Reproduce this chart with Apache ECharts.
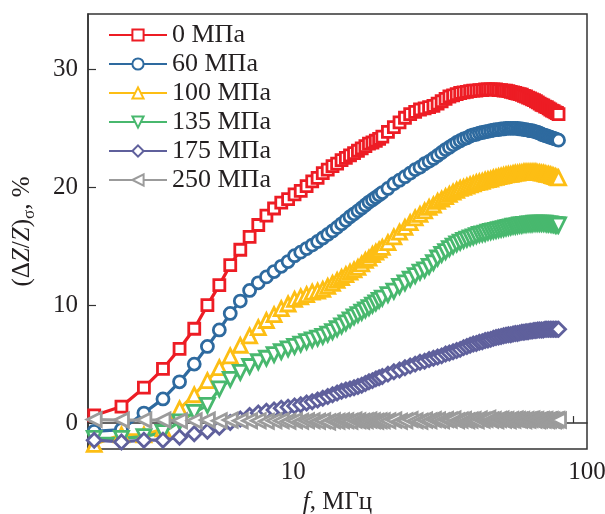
<!DOCTYPE html>
<html>
<head>
<meta charset="utf-8">
<script src="https://cdn.jsdelivr.net/npm/echarts@6/dist/echarts.min.js"></script>
<style>
  html, body { margin: 0; padding: 0; background: #fff; }
  #chart { width: 605px; height: 514px; }
</style>
</head>
<body>
<div id="chart"></div>
<script>
  // frequency, MHz
  var freq = [2.1, 2.6, 3.1, 3.6, 4.1, 4.6, 5.1, 5.6, 6.1, 6.6, 7.1, 7.6, 8.1, 8.6, 9.1, 9.6, 10.1,
    10.6, 11.1, 11.6, 12.1, 12.6, 13.1, 13.6, 14.1, 14.6, 15.1, 15.6, 16.1, 16.6, 17.1, 17.6, 18.1, 18.6, 19.1, 19.6, 20.1,
    21, 22, 23, 24, 25, 26, 27, 28, 29, 30, 31, 32, 33, 34, 35, 36, 37, 38, 39, 40,
    41, 42, 43, 44, 45, 46, 47, 48, 49, 50, 51, 52, 53, 54, 55, 56, 57, 58, 59, 60,
    61, 62, 63, 64, 65, 66, 67, 68, 69, 70, 71, 72, 73, 74, 75, 76, 77, 78, 79, 80];

  var names = ['0 МПа', '60 МПа', '100 МПа', '135 МПа', '175 МПа', '250 МПа'];

  var mpa0 = [0.65, 1.4, 3.0, 4.6, 6.3, 8.0, 10.0, 11.7, 13.4, 14.7, 15.8, 16.8, 17.6, 18.2, 18.7, 19.0, 19.4,
    19.7, 20.1, 20.5, 20.8, 21.2, 21.5, 21.8, 22.0, 22.3, 22.5, 22.7, 22.9, 23.1, 23.3, 23.5, 23.7, 23.8, 23.95, 24.1, 24.3,
    24.7, 25.1, 25.5, 25.9, 26.2, 26.4, 26.6, 26.7, 26.8, 26.9, 27.1, 27.3, 27.5, 27.7, 27.8, 27.9, 28.0, 28.05, 28.1, 28.15,
    28.2, 28.2, 28.25, 28.25, 28.3, 28.3, 28.3, 28.3, 28.3, 28.25, 28.25, 28.2, 28.2, 28.15, 28.1, 28.05, 28.0, 27.95, 27.9, 27.85,
    27.75, 27.7, 27.6, 27.55, 27.45, 27.4, 27.3, 27.2, 27.1, 27.0, 26.95, 26.85, 26.8, 26.7, 26.6, 26.5, 26.45, 26.35, 26.3, 26.2];

  var mpa60 = [-0.7, -0.55, 0.85, 2.05, 3.5, 5.0, 6.5, 7.9, 9.3, 10.35, 11.25, 11.9, 12.4, 12.85, 13.3, 13.7, 14.2,
    14.5, 14.8, 15.1, 15.4, 15.7, 16.0, 16.3, 16.6, 16.9, 17.2, 17.5, 17.75, 18.0, 18.25, 18.5, 18.75, 18.95, 19.15, 19.35, 19.55,
    19.9, 20.3, 20.6, 20.9, 21.2, 21.5, 21.7, 22.0, 22.2, 22.45, 22.7, 22.95, 23.2, 23.4, 23.6, 23.8, 23.95, 24.1, 24.2, 24.35,
    24.45, 24.5, 24.6, 24.65, 24.7, 24.75, 24.8, 24.85, 24.9, 24.9, 24.95, 24.95, 25.0, 25.0, 25.0, 25.0, 25.0, 25.0, 24.95, 24.95,
    24.9, 24.9, 24.85, 24.8, 24.8, 24.75, 24.7, 24.65, 24.6, 24.5, 24.45, 24.4, 24.35, 24.3, 24.25, 24.2, 24.15, 24.1, 24.05, 24.0];

  var mpa100 = [-1.8, -1.0, -1.0, -0.5, 1.2, 2.4, 3.6, 4.7, 5.7, 6.6, 7.4, 8.1, 8.7, 9.2, 9.7, 10.1, 10.5,
    10.7, 10.9, 11.1, 11.2, 11.35, 11.6, 11.85, 12.1, 12.35, 12.6, 12.8, 13.0, 13.2, 13.5, 13.8, 14.0, 14.3, 14.5, 14.7, 14.9,
    15.3, 15.8, 16.2, 16.6, 17.0, 17.4, 17.7, 18.0, 18.3, 18.5, 18.8, 19.0, 19.2, 19.4, 19.6, 19.75, 19.9, 20.0, 20.1, 20.2,
    20.3, 20.4, 20.45, 20.5, 20.6, 20.65, 20.7, 20.8, 20.85, 20.9, 20.95, 21.0, 21.05, 21.1, 21.1, 21.15, 21.2, 21.2, 21.25, 21.25,
    21.3, 21.3, 21.3, 21.3, 21.3, 21.3, 21.3, 21.25, 21.25, 21.2, 21.2, 21.15, 21.1, 21.1, 21.05, 21.0, 20.95, 20.9, 20.85, 20.8];

  var mpa135 = [-1.3, -1.3, -1.15, -0.8, 0.1, 0.9, 1.5, 2.9, 3.7, 4.3, 4.8, 5.2, 5.5, 5.8, 6.05, 6.3, 6.5,
    6.7, 6.9, 7.05, 7.2, 7.35, 7.55, 7.75, 8.0, 8.25, 8.5, 8.75, 9.0, 9.2, 9.4, 9.6, 9.8, 10.0, 10.2, 10.4, 10.6,
    10.9, 11.2, 11.6, 11.9, 12.2, 12.5, 12.8, 13.0, 13.3, 13.6, 14.0, 14.3, 14.55, 14.8, 15.0, 15.2, 15.35, 15.5, 15.6, 15.7,
    15.8, 15.9, 16.0, 16.05, 16.1, 16.2, 16.25, 16.3, 16.35, 16.4, 16.45, 16.5, 16.55, 16.6, 16.65, 16.7, 16.7, 16.75, 16.8, 16.8,
    16.85, 16.85, 16.9, 16.9, 16.9, 16.95, 16.95, 16.95, 16.95, 16.95, 16.95, 16.95, 16.9, 16.9, 16.9, 16.85, 16.85, 16.8, 16.8, 16.8];

  var mpa175 = [-1.45, -1.6, -1.45, -1.45, -1.2, -0.9, -0.7, -0.35, 0.05, 0.35, 0.65, 0.85, 1.0, 1.1, 1.25, 1.35, 1.45,
    1.55, 1.7, 1.8, 1.95, 2.1, 2.25, 2.4, 2.55, 2.7, 2.8, 2.9, 3.0, 3.1, 3.2, 3.35, 3.5, 3.6, 3.75, 3.85, 3.95,
    4.15, 4.35, 4.5, 4.7, 4.85, 5.0, 5.15, 5.25, 5.4, 5.5, 5.6, 5.7, 5.85, 5.95, 6.05, 6.15, 6.25, 6.4, 6.5, 6.6,
    6.7, 6.75, 6.85, 6.9, 7.0, 7.05, 7.1, 7.2, 7.25, 7.3, 7.35, 7.4, 7.45, 7.5, 7.5, 7.55, 7.6, 7.6, 7.65, 7.7,
    7.7, 7.75, 7.75, 7.8, 7.8, 7.85, 7.85, 7.9, 7.9, 7.9, 7.9, 7.95, 7.95, 7.95, 7.95, 7.95, 7.95, 7.95, 7.95, 7.95];

  var mpa250 = [0.3, 0.25, 0.25, 0.25, 0.2, 0.2, 0.25, 0.2, 0.25, 0.2, 0.2, 0.2, 0.15, 0.2, 0.2, 0.15, 0.2,
    0.15, 0.2, 0.2, 0.15, 0.2, 0.1, 0.2, 0.15, 0.2, 0.2, 0.15, 0.25, 0.2, 0.15, 0.2, 0.25, 0.2, 0.15, 0.2, 0.2,
    0.2, 0.25, 0.15, 0.2, 0.3, 0.2, 0.15, 0.25, 0.2, 0.3, 0.25, 0.2, 0.3, 0.25, 0.35, 0.2, 0.25, 0.3, 0.2, 0.25,
    0.3, 0.2, 0.35, 0.25, 0.3, 0.4, 0.25, 0.3, 0.2, 0.3, 0.35, 0.25, 0.3, 0.2, 0.3, 0.25, 0.35, 0.3, 0.25, 0.3,
    0.2, 0.3, 0.25, 0.3, 0.35, 0.25, 0.3, 0.2, 0.25, 0.3, 0.25, 0.3, 0.2, 0.25, 0.3, 0.25, 0.2, 0.25, 0.3, 0.25];

  var yTicks = [0, 10, 20, 30];
  var xMinorTicks = [3, 4, 5, 6, 7, 8, 9, 10, 20, 30, 40, 50, 60, 70, 80, 90];

  var colors = ['#ED1C24', '#2E6A9F', '#FDBE14', '#48B86E', '#5F609C', '#9B9B9B'];
  var symbols = ['rect', 'circle', 'triangle', 'triangle', 'diamond', 'triangle'];
  var symRot = [0, 0, 0, 180, 0, 90];
  var symSize = [11, 12, 14, 14, 14, 14];
  var values = [mpa0, mpa60, mpa100, mpa135, mpa175, mpa250];

  var serif = 'Liberation Serif';
  var ink = '#231F20';

  var series = [];
  values.forEach(function (vals, i) {
    var pts = [];
    for (var k = 0; k < freq.length; k++) pts.push([freq[k], vals[k]]);
    series.push({
      name: names[i],
      type: 'line',
      data: pts,
      symbol: symbols[i],
      symbolSize: symSize[i],
      symbolRotate: symRot[i],
      showAllSymbol: true,
      lineStyle: { color: colors[i], width: 3.2 },
      itemStyle: { color: '#fff', borderColor: colors[i], borderWidth: 2.8 },
      emphasis: { disabled: true }
    });
  });

  var myChart = echarts.init(document.getElementById('chart'));

  var option = {
    animation: false,
    backgroundColor: '#fff',
    grid: {
      left: 88, right: 18, top: 14, bottom: 65,
      outerBoundsMode: 'none',
      show: true,
      borderColor: '#333',
      borderWidth: 1.5
    },
    legend: {
      orient: 'vertical',
      left: 108,
      top: 22,
      padding: 0,
      itemWidth: 58,
      itemHeight: 14,
      itemGap: 3,
      data: names,
      textStyle: { fontFamily: serif, fontSize: 26, color: ink, lineHeight: 26 }
    },
    xAxis: {
      type: 'log',
      logBase: 10,
      min: 2,
      max: 100,
      name: '{i|f}{n|, МГц}',
      nameLocation: 'middle',
      nameGap: 35,
      nameTextStyle: {
        rich: {
          i: { fontFamily: serif, fontSize: 25, fontStyle: 'italic', color: ink },
          n: { fontFamily: serif, fontSize: 25, color: ink }
        }
      },
      axisLine: { lineStyle: { color: '#333', width: 1.5 } },
      axisTick: { inside: true, length: 7, lineStyle: { color: '#333', width: 1.2 }, customValues: xMinorTicks },
      axisLabel: {
        margin: 11,
        fontFamily: serif, fontSize: 25, color: ink,
        showMinLabel: false,
        formatter: function (v) { return (v === 10 || v === 100) ? String(v) : ''; }
      },
      splitLine: { show: false }
    },
    yAxis: {
      type: 'value',
      min: -2.2,
      max: 34.7,
      name: '{n|(Δ}{i|Z}{n|/}{i|Z}{n|)}{s|σ}{n|, %}',
      nameLocation: 'middle',
      nameGap: 50,
      nameRotate: 90,
      nameTextStyle: {
        rich: {
          n: { fontFamily: serif, fontSize: 25, color: ink, lineHeight: 32 },
          i: { fontFamily: serif, fontSize: 25, fontStyle: 'italic', color: ink, lineHeight: 32 },
          s: { fontFamily: serif, fontSize: 17, color: ink, lineHeight: 12, verticalAlign: 'bottom' }
        }
      },
      axisLine: { show: true, lineStyle: { color: '#333', width: 1.5 } },
      axisTick: { inside: true, length: 8, lineStyle: { color: '#333', width: 1.2 }, customValues: yTicks },
      axisLabel: { margin: 10, fontFamily: serif, fontSize: 25, color: ink, customValues: yTicks },
      splitLine: { show: false }
    },
    series: series
  };

  myChart.setOption(option);
</script>
</body>
</html>
